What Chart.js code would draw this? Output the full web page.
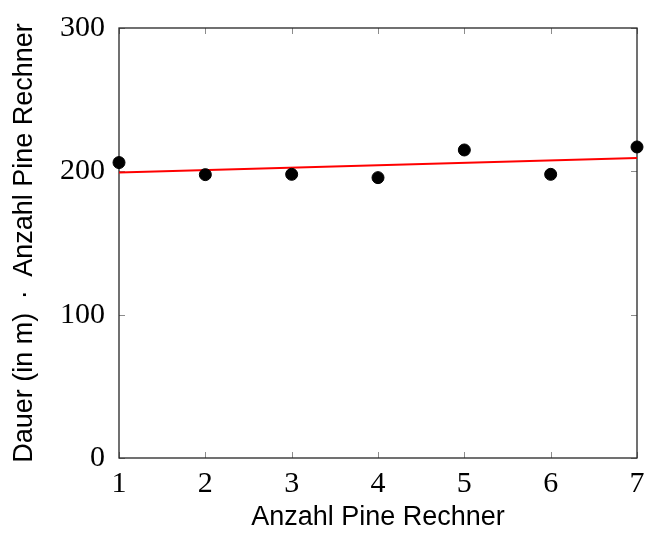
<!DOCTYPE html>
<html>
<head>
<meta charset="utf-8">
<script src="https://cdn.jsdelivr.net/npm/chart.js@4/dist/chart.umd.min.js"></script>
<style>
  html, body { margin: 0; padding: 0; background: #fff; }
  #wrap { width: 646px; height: 534px; }
</style>
</head>
<body>
<div id="wrap"><canvas id="c" width="646" height="534"></canvas></div>
<script>
// measured values
var rechner = [1, 2, 3, 4, 5, 6, 7];
var dauer = [206.1, 197.7, 197.9, 195.6, 214.9, 197.9, 217.0];
// fit line, ends at x=1 and x=7
var fitX = [1, 7];
var fitY = [199.1, 209.3];
var yTicks = [0, 100, 200, 300];

var points = rechner.map(function (x, i) { return { x: x, y: dauer[i] }; });
var fit = fitX.map(function (x, i) { return { x: x, y: fitY[i] }; });

// pgfplots style: closed box and inward ticks on all four sides
var boxPlugin = {
    id: "box",
    beforeDatasetsDraw: function (chart) {
        var ctx = chart.ctx;
        var a = chart.chartArea;
        var xs = chart.scales.x, ys = chart.scales.y;
        ctx.save();
        ctx.strokeStyle = "#8c8c8c";
        ctx.lineWidth = 1;
        ctx.beginPath();
        for (var i = 0; i < xs.ticks.length; i++) {
            var px = Math.round(xs.getPixelForValue(xs.ticks[i].value)) + 0.5;
            ctx.moveTo(px, a.bottom); ctx.lineTo(px, a.bottom - 6);
            ctx.moveTo(px, a.top); ctx.lineTo(px, a.top + 6);
        }
        for (var j = 0; j < ys.ticks.length; j++) {
            var py = Math.round(ys.getPixelForValue(ys.ticks[j].value)) + 0.5;
            ctx.moveTo(a.left, py); ctx.lineTo(a.left + 6, py);
            ctx.moveTo(a.right, py); ctx.lineTo(a.right - 6, py);
        }
        ctx.stroke();
        ctx.strokeStyle = "#262626";
        ctx.lineWidth = 1.3;
        ctx.strokeRect(a.left, a.top, a.right - a.left, a.bottom - a.top);
        ctx.restore();
    }
};

new Chart(document.getElementById("c"), {
    type: "scatter",
    data: {
        datasets: [
            {
                type: "line",
                data: fit,
                borderColor: "rgb(255,0,0)",
                borderWidth: 2,
                pointRadius: 0,
                fill: false,
                order: 2
            },
            {
                data: points,
                backgroundColor: "#000",
                borderColor: "#000",
                pointRadius: 6,
                pointHoverRadius: 6,
                clip: false,
                order: 1
            }
        ]
    },
    plugins: [boxPlugin],
    options: {
        responsive: false,
        animation: false,
        events: [],
        layout: { padding: { top: 28, right: 9, left: 0, bottom: 0 } },
        plugins: {
            legend: { display: false },
            tooltip: { enabled: false }
        },
        scales: {
            x: {
                type: "linear",
                min: 1,
                max: 7,
                grid: { display: false },
                border: { display: false },
                ticks: {
                    stepSize: 1,
                    padding: 0,
                    color: "#000",
                    font: { family: "Liberation Serif", size: 30 }
                },
                title: {
                    display: true,
                    text: "Anzahl Pine Rechner",
                    color: "#000",
                    padding: { top: 2, bottom: 0 },
                    font: { family: "Liberation Sans", size: 27 }
                },
                afterFit: function (s) {
                    s.height = 76;
                    s.paddingLeft = 0;
                    s.paddingRight = 0;
                }
            },
            y: {
                type: "linear",
                min: 0,
                max: 300,
                grid: { display: false },
                border: { display: false },
                afterBuildTicks: function (s) {
                    s.ticks = yTicks.map(function (v) { return { value: v }; });
                },
                ticks: {
                    padding: 6,
                    color: "#000",
                    font: { family: "Liberation Serif", size: 30 }
                },
                title: {
                    display: true,
                    text: "Dauer (in m)\u2002·\u2002Anzahl Pine Rechner",
                    color: "#000",
                    padding: { top: 8, bottom: 0 },
                    font: { family: "Liberation Sans", size: 27 }
                },
                afterFit: function (s) {
                    s.width = 119;
                    s.paddingTop = 0;
                    s.paddingBottom = 0;
                }
            }
        }
    }
});
</script>
</body>
</html>
